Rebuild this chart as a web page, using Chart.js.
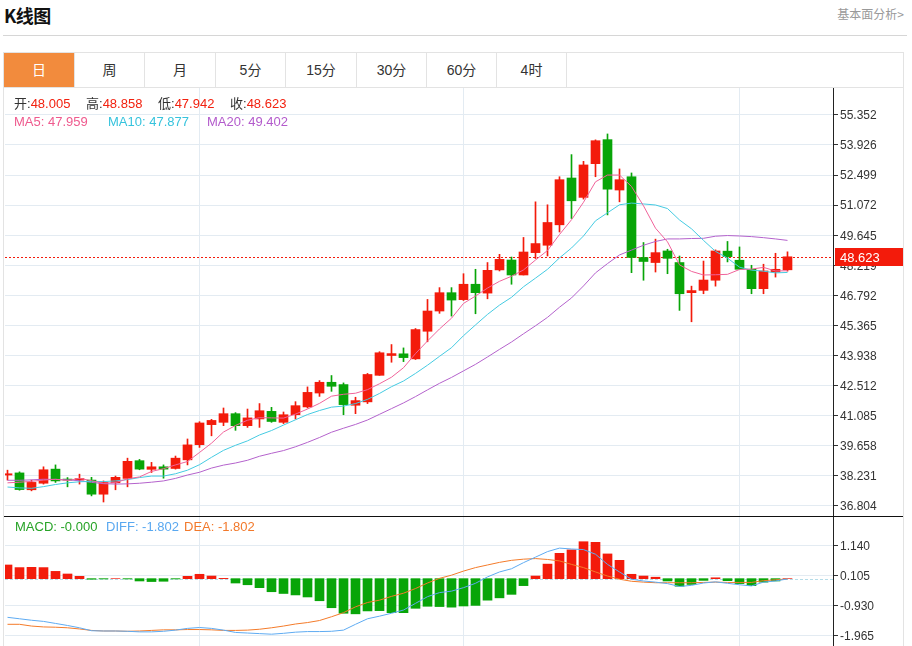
<!DOCTYPE html>
<html><head><meta charset="utf-8"><title>K线图</title>
<script src="https://cdn.jsdelivr.net/npm/chart.js@4.4.1/dist/chart.umd.min.js"></script>
<style>
html,body{margin:0;padding:0;background:#fff;}
body{width:912px;height:646px;overflow:hidden;position:relative;font-family:"Liberation Sans","Noto Sans CJK SC",sans-serif;color:#333;}
.abs{position:absolute;white-space:nowrap;}
#title{left:4px;top:2px;font-size:18px;font-weight:bold;color:#111;font-family:"Noto Sans CJK SC",sans-serif;letter-spacing:-0.5px;line-height:26px;}
#more{right:8px;top:5px;font-size:12px;color:#999;font-family:"Noto Sans CJK SC",sans-serif;line-height:18px;}
#hr{left:3px;top:35px;width:904px;height:1px;background:#d6d6d6;}
#box{left:3px;top:52px;width:899px;height:640px;border:1px solid #e3e3e3;}
#tabline{left:4px;top:87px;width:899px;height:1px;background:#e3e3e3;}
.tab{top:53px;height:34px;line-height:34px;text-align:center;font-size:14px;color:#333;font-family:"Liberation Sans","Noto Sans CJK SC",sans-serif;box-sizing:border-box;border-right:1px solid #e3e3e3;}
.tab.on{background:#f28b3d;color:#fff;}
#sep{left:4px;top:516px;width:899px;height:1px;background:#111;}
canvas{position:absolute;}
.info{font-size:13px;line-height:18px;}
.k{color:#333;}
.r{color:#f2210f;}
</style></head>
<body>
<div class="abs" id="title">K线图</div>
<div class="abs" id="more">基本面分析&gt;</div>
<div class="abs" id="hr"></div>
<div class="abs" id="box"></div>
<div class="abs tab on" style="left:4px;width:71px;">日</div>
<div class="abs tab" style="left:75px;width:70px;">周</div>
<div class="abs tab" style="left:145px;width:71px;">月</div>
<div class="abs tab" style="left:216px;width:70px;">5分</div>
<div class="abs tab" style="left:286px;width:71px;">15分</div>
<div class="abs tab" style="left:357px;width:70px;">30分</div>
<div class="abs tab" style="left:427px;width:70px;">60分</div>
<div class="abs tab" style="left:497px;width:70px;">4时</div>
<div class="abs" id="tabline"></div>

<canvas id="main" width="898" height="428" style="left:5px;top:88px;width:898px;height:428px;"></canvas>
<canvas id="macd" width="898" height="129" style="left:5px;top:517px;width:898px;height:129px;"></canvas>
<div class="abs" id="sep"></div>

<div class="abs info" style="left:14px;top:95px;"><span class="k">开:</span><span class="r" id="vO"></span></div>
<div class="abs info" style="left:86px;top:95px;"><span class="k">高:</span><span class="r" id="vH"></span></div>
<div class="abs info" style="left:158px;top:95px;"><span class="k">低:</span><span class="r" id="vL"></span></div>
<div class="abs info" style="left:230px;top:95px;"><span class="k">收:</span><span class="r" id="vC"></span></div>
<div class="abs info" style="left:14px;top:113px;color:#ef5a8e;" id="tMA5"></div>
<div class="abs info" style="left:108px;top:113px;color:#36c3dd;" id="tMA10"></div>
<div class="abs info" style="left:207px;top:113px;color:#b35bcc;" id="tMA20"></div>
<div class="abs info" style="left:15px;top:518px;color:#27a327;" id="tMACD"></div>
<div class="abs info" style="left:106px;top:518px;color:#59a8f0;" id="tDIFF"></div>
<div class="abs info" style="left:184px;top:518px;color:#f2792b;" id="tDEA"></div>

<script>
// ---------- data ----------
const opens = [38.27,38.37,37.57,37.88,38.55,38.07,38.03,38.03,37.36,37.90,38.11,38.95,38.54,38.66,38.58,38.99,39.71,40.66,40.77,41.18,40.61,40.93,41.29,40.77,41.13,41.50,42.16,42.67,42.56,41.58,41.74,43.00,43.94,44.02,43.78,45.09,46.05,46.92,46.59,47.32,46.90,48.00,48.47,47.76,48.82,49.17,50.14,52.36,51.44,53.04,54.18,51.79,52.42,48.59,48.35,48.90,48.35,46.92,47.03,47.51,48.89,48.46,48.03,47.11,47.90,48.005];
const highs = [38.50,38.42,38.03,38.66,38.75,38.15,38.31,38.16,37.99,38.22,39.07,39.01,38.87,38.75,39.17,39.98,40.80,40.91,41.45,41.23,41.40,41.66,41.48,41.26,41.75,42.45,42.75,42.99,42.64,41.96,43.09,44.12,44.46,44.30,45.22,46.60,47.16,47.16,47.82,48.03,48.35,48.74,48.61,49.54,51.23,51.09,52.42,53.47,53.15,54.17,54.45,52.79,52.60,49.30,49.46,48.98,48.66,47.23,48.42,48.95,49.35,49.09,48.22,48.27,48.79,48.858];
const lows = [38.03,37.55,37.52,37.84,37.92,37.71,37.84,37.28,36.99,37.57,37.71,38.52,38.39,38.12,38.55,38.75,39.58,40.13,40.61,40.39,40.53,40.53,40.77,40.71,40.93,41.45,42.00,42.24,41.13,41.18,41.66,43.00,43.62,43.65,43.75,44.59,45.94,45.81,46.55,45.92,46.63,47.95,47.32,47.76,48.54,48.66,49.80,50.44,51.36,52.42,50.61,51.23,47.87,47.51,47.90,47.82,46.08,45.54,46.87,47.23,48.38,48.03,46.87,46.87,47.66,47.942];
const closes = [38.33,37.58,37.92,38.52,37.99,38.03,38.10,37.36,37.92,38.16,38.92,38.55,38.66,38.55,39.07,39.70,40.74,40.86,41.18,40.61,40.98,41.32,40.81,41.13,41.56,42.19,42.67,42.48,41.61,41.80,43.04,44.07,44.03,43.84,45.17,46.05,46.92,46.57,47.32,46.92,47.98,48.50,47.76,48.85,49.25,50.25,52.28,51.28,52.98,54.13,51.83,52.28,48.59,48.40,48.82,48.55,46.87,47.02,47.52,48.90,48.63,48.03,47.11,47.95,48.03,48.623];
const ma5 = [37.90,37.93,37.97,38.03,38.07,38.01,38.11,38.00,37.88,37.91,38.09,38.18,38.44,38.57,38.75,38.91,39.34,39.78,40.31,40.62,40.87,40.99,40.98,40.97,41.16,41.40,41.67,42.01,42.10,42.15,42.32,42.60,42.91,43.36,44.03,44.63,45.20,45.71,46.41,46.76,47.14,47.46,47.70,48.00,48.47,48.92,49.68,50.38,51.21,52.18,52.50,52.50,51.96,51.04,49.98,49.33,48.24,47.93,47.76,47.77,47.79,48.02,48.04,48.12,47.95,47.96];
const ma10 = [37.70,37.66,37.64,37.72,37.82,37.90,37.95,37.97,37.96,37.99,38.05,38.15,38.22,38.22,38.33,38.50,38.76,39.11,39.44,39.68,39.89,40.17,40.38,40.64,40.89,41.14,41.33,41.49,41.54,41.66,41.86,42.14,42.46,42.73,43.09,43.48,43.90,44.31,44.88,45.39,45.89,46.33,46.70,47.20,47.61,48.03,48.57,49.04,49.61,50.33,50.71,51.09,51.17,51.13,51.08,50.91,50.37,49.95,49.40,48.88,48.56,48.13,47.99,47.94,47.86,47.88];
const ma20 = [38.02,38.02,38.04,38.07,38.06,38.04,38.00,37.92,37.86,37.84,37.85,37.88,37.93,37.99,38.11,38.27,38.40,38.60,38.74,38.84,38.97,39.16,39.30,39.43,39.61,39.82,40.05,40.30,40.49,40.67,40.88,41.15,41.42,41.69,41.99,42.31,42.62,42.90,43.21,43.52,43.87,44.23,44.58,44.97,45.35,45.75,46.23,46.67,47.24,47.86,48.30,48.71,48.94,49.17,49.35,49.47,49.47,49.49,49.50,49.60,49.63,49.61,49.58,49.53,49.47,49.40];
const macdHist = [0.47,0.38,0.39,0.38,0.25,0.16,0.08,-0.02,-0.01,0.00,-0.01,-0.08,-0.10,-0.09,-0.01,0.08,0.15,0.09,0.01,-0.15,-0.21,-0.31,-0.45,-0.51,-0.56,-0.63,-0.76,-1.00,-1.19,-1.21,-1.11,-1.10,-1.17,-1.17,-1.02,-0.95,-0.96,-0.98,-0.94,-0.92,-0.74,-0.66,-0.54,-0.24,0.09,0.50,0.87,0.99,1.27,1.25,0.85,0.63,0.15,0.09,0.05,-0.08,-0.26,-0.20,-0.06,0.03,-0.07,-0.17,-0.24,-0.12,-0.08,0.00];
const diffLine = [-1.33,-1.38,-1.43,-1.47,-1.54,-1.61,-1.69,-1.79,-1.80,-1.80,-1.81,-1.83,-1.83,-1.81,-1.77,-1.71,-1.68,-1.71,-1.77,-1.85,-1.87,-1.89,-1.91,-1.88,-1.84,-1.82,-1.82,-1.81,-1.77,-1.57,-1.38,-1.29,-1.19,-1.08,-0.85,-0.62,-0.48,-0.43,-0.31,-0.16,0.06,0.23,0.34,0.55,0.74,0.93,1.05,1.02,1.00,0.84,0.49,0.23,-0.02,-0.08,-0.12,-0.17,-0.27,-0.23,-0.15,-0.11,-0.16,-0.21,-0.25,-0.12,-0.08,-0.01];
const deaLine = [-1.57,-1.57,-1.63,-1.66,-1.67,-1.69,-1.73,-1.78,-1.80,-1.80,-1.81,-1.80,-1.78,-1.76,-1.76,-1.75,-1.75,-1.76,-1.78,-1.78,-1.77,-1.74,-1.69,-1.63,-1.56,-1.51,-1.44,-1.31,-1.17,-0.97,-0.82,-0.74,-0.61,-0.50,-0.34,-0.15,0.01,0.12,0.26,0.38,0.47,0.56,0.63,0.67,0.69,0.66,0.61,0.49,0.38,0.23,0.09,-0.02,-0.09,-0.12,-0.14,-0.14,-0.14,-0.14,-0.13,-0.12,-0.13,-0.13,-0.13,-0.07,-0.04,-0.01];
const priceTicks = [36.804,38.231,39.658,41.085,42.512,43.938,45.365,46.792,48.219,49.645,51.072,52.499,53.926,55.352];
const macdTicks = [-1.965,-0.930,0.105,1.140];
const monthStarts = [16,38,61];
const infoOHLC = {open:'48.005', high:'48.858', low:'47.942', close:'48.623'};
const infoMA = {ma5:'47.959', ma10:'47.877', ma20:'49.402'};
const infoMACD = {macd:'-0.000', diff:'-1.802', dea:'-1.802'};

// ---------- text ----------
document.getElementById('vO').textContent = infoOHLC.open;
document.getElementById('vH').textContent = infoOHLC.high;
document.getElementById('vL').textContent = infoOHLC.low;
document.getElementById('vC').textContent = infoOHLC.close;
document.getElementById('tMA5').textContent = 'MA5: ' + infoMA.ma5;
document.getElementById('tMA10').textContent = 'MA10: ' + infoMA.ma10;
document.getElementById('tMA20').textContent = 'MA20: ' + infoMA.ma20;
document.getElementById('tMACD').textContent = 'MACD: ' + infoMACD.macd;
document.getElementById('tDIFF').textContent = 'DIFF: ' + infoMACD.diff;
document.getElementById('tDEA').textContent = 'DEA: ' + infoMACD.dea;

// ---------- styles ----------
const RED = '#f31b0b', GREEN = '#08a508';
const GRID = '#e3ebf2';
const PINK = '#f0639a', CYAN = '#45cbe2', PURPLE = '#b462cc';
const BLUE = '#5eabf2', ORANGE = '#f47b2a';
const AXIS_W = 70;
const X_MIN = -2.5 / 12, X_MAX = X_MIN + 69;

const candleColor = closes.map((c, i) => c >= opens[i] ? RED : GREEN);
const pts = arr => arr.map((v, i) => ({x: i, y: v}));

function xAxis() {
  return {
    type: 'linear', min: X_MIN, max: X_MAX, offset: false,
    ticks: {display: false},
    grid: {color: GRID, drawTicks: false, offset: false},
    border: {display: false},
    afterBuildTicks: s => { s.ticks = monthStarts.map(v => ({value: v})); }
  };
}
function yAxis(min, max, tickVals) {
  return {
    type: 'linear', position: 'right', min: min, max: max,
    afterBuildTicks: s => { s.ticks = tickVals.map(v => ({value: v})); },
    afterFit: s => { s.width = AXIS_W; s.paddingTop = 0; s.paddingBottom = 0; },
    ticks: {autoSkip: false, callback: v => Number(v).toFixed(3), color: '#333',
            font: {family: 'Liberation Sans', size: 12}, padding: 2, labelOffset: 1},
    grid: {color: GRID, tickColor: '#333', tickLength: 5, drawTicks: true},
    border: {display: true, color: '#222', width: 1}
  };
}

Chart.defaults.animation = false;

const priceMarker = {
  id: 'priceMarker',
  beforeDatasetsDraw(chart) {
    const a = chart.chartArea, ys = chart.scales.y, ctx = chart.ctx;
    const y = Math.round(ys.getPixelForValue(closes[closes.length - 1])) + 0.5;
    ctx.save();
    ctx.strokeStyle = RED; ctx.lineWidth = 1; ctx.setLineDash([2, 2]);
    ctx.beginPath(); ctx.moveTo(a.left, y); ctx.lineTo(a.right, y); ctx.stroke();
    ctx.restore();
  },
  afterDraw(chart) {
    const a = chart.chartArea, ys = chart.scales.y, ctx = chart.ctx;
    const y = Math.round(ys.getPixelForValue(closes[closes.length - 1]));
    ctx.save();
    ctx.fillStyle = RED;
    ctx.fillRect(a.right + 2, y - 9, chart.width - a.right - 2, 18);
    ctx.fillStyle = '#fff';
    ctx.font = '13px "Liberation Sans"';
    ctx.textBaseline = 'middle';
    ctx.fillText(closes[closes.length - 1].toFixed(3), a.right + 7, y + 1);
    ctx.restore();
  }
};

new Chart(document.getElementById('main'), {
  type: 'bar',
  data: {
    datasets: [
      {type: 'line', label: 'MA5', data: pts(ma5), borderColor: PINK, borderWidth: 1, pointRadius: 0, tension: 0, order: 1},
      {type: 'line', label: 'MA10', data: pts(ma10), borderColor: CYAN, borderWidth: 1, pointRadius: 0, tension: 0, order: 1},
      {type: 'line', label: 'MA20', data: pts(ma20), borderColor: PURPLE, borderWidth: 1, pointRadius: 0, tension: 0, order: 1},
      {type: 'bar', label: 'body', data: opens.map((o, i) => ({x: i, y: [o, closes[i]]})),
       backgroundColor: candleColor, barThickness: 9, grouped: false, minBarLength: 1, order: 2},
      {type: 'bar', label: 'wick', data: highs.map((h, i) => ({x: i, y: [lows[i], h]})),
       backgroundColor: candleColor, barThickness: 1, grouped: false, order: 3}
    ]
  },
  options: {
    responsive: false, animation: false, events: [],
    layout: {padding: 0},
    plugins: {legend: {display: false}, tooltip: {enabled: false}},
    scales: {x: xAxis(), y: yAxis(36.326, 56.63, priceTicks)}
  },
  plugins: [priceMarker]
});

const zeroLine = {
  id: 'zeroLine',
  beforeDatasetsDraw(chart) {
    const a = chart.chartArea, ys = chart.scales.y, ctx = chart.ctx;
    const y = Math.round(ys.getPixelForValue(0)) + 0.5;
    ctx.save();
    ctx.strokeStyle = '#b5dce8'; ctx.lineWidth = 1; ctx.setLineDash([3, 2]);
    ctx.beginPath(); ctx.moveTo(a.left, y); ctx.lineTo(a.right, y); ctx.stroke();
    ctx.restore();
  }
};

new Chart(document.getElementById('macd'), {
  type: 'bar',
  data: {
    datasets: [
      {type: 'line', label: 'DIFF', data: pts(diffLine), borderColor: BLUE, borderWidth: 1, pointRadius: 0, tension: 0, order: 1},
      {type: 'line', label: 'DEA', data: pts(deaLine), borderColor: ORANGE, borderWidth: 1, pointRadius: 0, tension: 0, order: 1},
      {type: 'bar', label: 'MACD', data: pts(macdHist),
       backgroundColor: macdHist.map(v => v >= 0 ? RED : GREEN), barThickness: 9, grouped: false, order: 2}
    ]
  },
  options: {
    responsive: false, animation: false, events: [],
    layout: {padding: 0},
    plugins: {legend: {display: false}, tooltip: {enabled: false}},
    scales: {x: xAxis(), y: yAxis(-2.316, 2.12, macdTicks)}
  },
  plugins: [zeroLine]
});
</script>
</body></html>
